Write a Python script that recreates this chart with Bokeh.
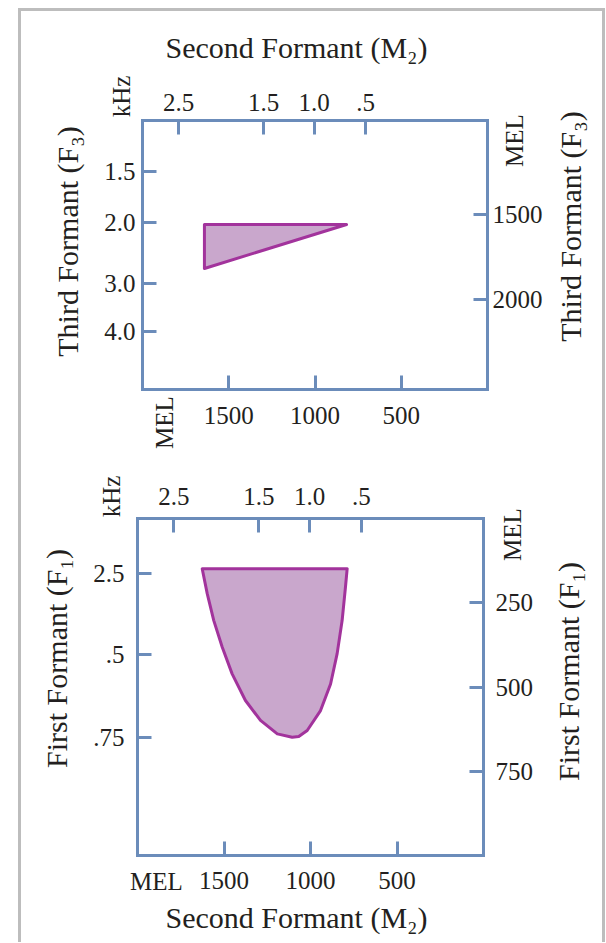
import math
from bokeh.plotting import figure
from bokeh.models import Range1d, LinearAxis, FixedTicker, Label
from bokeh.layouts import column
from bokeh.embed import file_html
from bokeh.resources import INLINE

# ---------------- data ----------------
F2_MEL_TICKS = [1500, 1000, 500]
F2_KHZ_LABELS = ["2.5", "1.5", "1.0", ".5"]
F2_KHZ_POS = [1790, 1298, 1005, 706]

F3_MEL_TICKS = [1500, 2000]
F3_KHZ_LABELS = ["1.5", "2.0", "3.0", "4.0"]
F3_KHZ_POS = [1245, 1546, 1905, 2188]

F1_MEL_TICKS = [250, 500, 750]
F1_KHZ_LABELS = ["2.5", ".5", ".75"]
F1_KHZ_POS = [163, 404, 650]

REGION3_F2 = [1641, 817, 1641]
REGION3_F3 = [1558, 1558, 1817]

REGION1_F2 = [1626, 1597, 1559, 1510, 1453, 1376, 1289, 1192, 1106, 1068,
              1019, 942, 884, 846, 817, 798, 788]
REGION1_F1 = [149, 223, 303, 382, 461, 540, 599, 639, 649, 647,
              629, 570, 491, 401, 302, 204, 149]

# axis extents (MEL)
F2_EXTENT = (2000, 0)
F3_EXTENT = (945, 2530)
F1_EXTENT = (0, 1000)

# ---------------- styling ----------------
FONT = "Liberation Serif"
BLUE = "#6b8cba"
FILL = "#c9a7cc"
STROKE = "#a2339c"
TEXT = "#231f20"
GRAY = "#bdbdbd"
TICK_SIZE = "25px"
TITLE_SIZE = "30px"

ORIGIN_X = 21      # page position of the column content
ORIGIN_Y = 11
CANVAS_W = 581
UP = math.pi / 2


class Panel:
    """A figure whose frame fills the canvas; the boxed plot area is at `box`
    (page pixels) and spans the data extents xdata / ydata (top -> bottom)."""

    def __init__(self, canvas_top, canvas_h, box, xdata, ydata):
        bx0, by0, bw, bh = box
        self.bx0, self.by0 = bx0, by0
        self.xl, self.xr = xdata
        self.yt, self.yb = ydata
        self.sx = (self.xr - self.xl) / bw
        self.sy = (self.yb - self.yt) / bh
        cx0 = bx0 - ORIGIN_X
        cy0 = by0 - canvas_top
        x_start = self.xl - cx0 * self.sx
        x_end = self.xl + (CANVAS_W - cx0) * self.sx
        y_top = self.yt - cy0 * self.sy
        y_bottom = self.yt + (canvas_h - cy0) * self.sy
        p = figure(frame_width=CANVAS_W, frame_height=canvas_h,
                   x_range=Range1d(x_start, x_end),
                   y_range=Range1d(y_bottom, y_top),
                   x_axis_type=None, y_axis_type=None, title=None,
                   min_border=0, output_backend="svg", toolbar_location=None)
        p.outline_line_color = None
        p.background_fill_color = "white"
        p.border_fill_color = "white"
        self.p = p

    def axis(self, side, ticks, labels, standoff):
        if side in ("above", "below"):
            loc = self.yt if side == "above" else self.yb
            bounds = (min(self.xl, self.xr), max(self.xl, self.xr))
        else:
            loc = self.xl if side == "left" else self.xr
            bounds = (min(self.yt, self.yb), max(self.yt, self.yb))
        ax = LinearAxis(ticker=FixedTicker(ticks=ticks), fixed_location=loc,
                        bounds=bounds)
        if labels is not None:
            ax.major_label_overrides = {t: s for t, s in zip(ticks, labels)}
        ax.axis_line_color = BLUE
        ax.axis_line_width = 3
        ax.axis_line_cap = "square"
        ax.major_tick_in = 14
        ax.major_tick_out = 0
        ax.major_tick_line_color = BLUE
        ax.major_tick_line_width = 3
        ax.minor_tick_line_color = None
        ax.major_label_text_font = FONT
        ax.major_label_text_font_size = TICK_SIZE
        ax.major_label_text_color = TEXT
        ax.major_label_standoff = standoff
        self.p.add_layout(ax, side)

    def text(self, px, py, text, size, angle=0.0):
        x = self.xl + (px - self.bx0) * self.sx
        y = self.yt + (py - self.by0) * self.sy
        self.p.add_layout(Label(x=x, y=y, text=text, angle=angle,
                                text_align="center", text_baseline="alphabetic",
                                text_font=FONT, text_font_size=size,
                                text_color=TEXT))


# ---------------- top panel: F2 x F3 ----------------
TOP_H = 451
top = Panel(ORIGIN_Y, TOP_H, (142, 120, 345, 269), F2_EXTENT, F3_EXTENT)
top.axis("above", F2_KHZ_POS, F2_KHZ_LABELS, 10)
top.axis("below", F2_MEL_TICKS, None, 17)
top.axis("left", F3_KHZ_POS, F3_KHZ_LABELS, 7)
top.axis("right", F3_MEL_TICKS, None, 5)
top.p.patch(x=REGION3_F2, y=REGION3_F3, fill_color=FILL, line_color=STROKE,
            line_width=3, line_join="round")
top.text(296, 47, "Second Formant (M\u2082)", TITLE_SIZE)
top.text(121, 96, "kHz", TICK_SIZE, UP)
top.text(164, 422, "MEL", TICK_SIZE, UP)
top.text(514, 140, "MEL", TICK_SIZE, UP)
top.text(67, 241, "Third Formant (F\u2083)", TITLE_SIZE, UP)
top.text(570, 226, "Third Formant (F\u2083)", TITLE_SIZE, UP)

# ---------------- bottom panel: F2 x F1 ----------------
BOT_H = 480
bot = Panel(ORIGIN_Y + TOP_H, BOT_H, (137, 518, 346, 337), F2_EXTENT, F1_EXTENT)
bot.axis("above", F2_KHZ_POS, F2_KHZ_LABELS, 14)
bot.axis("below", F2_MEL_TICKS, None, 16)
bot.axis("left", F1_KHZ_POS, F1_KHZ_LABELS, 13)
bot.axis("right", F1_MEL_TICKS, None, 12)
bot.p.patch(x=REGION1_F2, y=REGION1_F1, fill_color=FILL, line_color=STROKE,
            line_width=3, line_join="round")
bot.text(111, 496, "kHz", TICK_SIZE, UP)
bot.text(512, 534, "MEL", TICK_SIZE, UP)
bot.text(156, 881, "MEL", TICK_SIZE)
bot.text(296, 917, "Second Formant (M\u2082)", TITLE_SIZE)
bot.text(56, 658, "First Formant (F\u2081)", TITLE_SIZE, UP)
bot.text(568, 671, "First Formant (F\u2081)", TITLE_SIZE, UP)

layout = column(top.p, bot.p, spacing=0,
                styles={"margin-left": "18px",
                        "margin-top": "8px",
                        "border-left": f"3px solid {GRAY}",
                        "border-top": f"3px solid {GRAY}",
                        "border-right": f"3px solid {GRAY}"})

open("out.html", "w").write(file_html(layout, INLINE))
